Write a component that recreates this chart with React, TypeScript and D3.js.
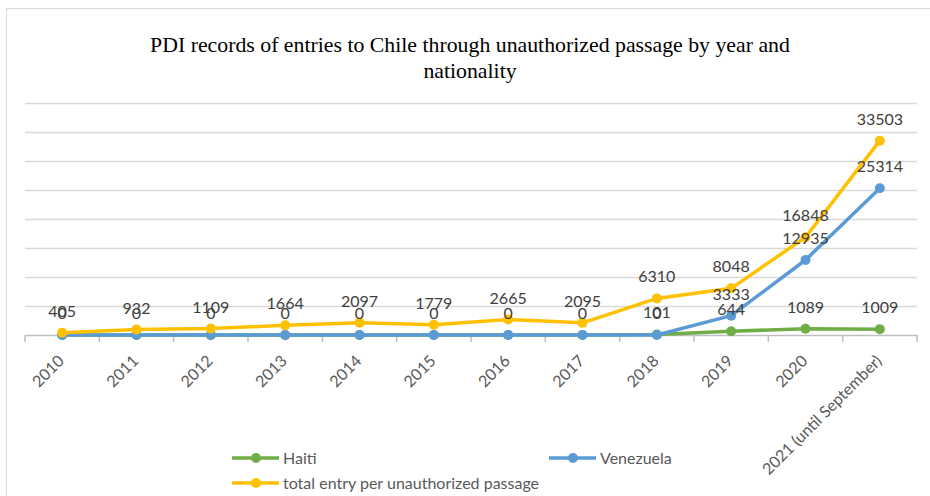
import * as d3 from 'd3';
import { useEffect, useRef } from 'react';

const years = ['2010', '2011', '2012', '2013', '2014', '2015', '2016', '2017', '2018', '2019', '2020', '2021 (until September)'];
const haiti = [0, 0, 0, 0, 0, 0, 0, 0, 101, 644, 1089, 1009];
const venezuela = [0, 0, 0, 0, 0, 0, 0, 0, 0, 3333, 12935, 25314];
const totalEntry = [405, 932, 1109, 1664, 2097, 1779, 2665, 2095, 6310, 8048, 16848, 33503];
const gridTicks = [5000, 10000, 15000, 20000, 25000, 30000, 35000, 40000];

const seriesList = [
    { name: 'Haiti', values: haiti, color: '#70ad47' },
    { name: 'Venezuela', values: venezuela, color: '#5b9bd5' },
    { name: 'total entry per unauthorized passage', values: totalEntry, color: '#ffc000' },
];

export default function App() {
    const chartRef = useRef<SVGSVGElement | null>(null);

    useEffect(() => {
        document.body.style.margin = '0';
        if (!chartRef.current) return;
        const svg = d3.select(chartRef.current);
        svg.selectAll('*').remove();

        const width = 930;
        const height = 496;
        const margin = { left: 25, right: 13, top: 103, axis: 335 };

        svg.attr('width', width).attr('height', height).style('display', 'block');

        // chart border (runs off the right/bottom edge)
        svg.append('rect')
            .attr('x', 6.5)
            .attr('y', 8.5)
            .attr('width', 940)
            .attr('height', 500)
            .attr('fill', '#fff')
            .attr('stroke', '#d9d9d9');

        // title
        const title = svg.append('text')
            .attr('text-anchor', 'middle')
            .style('font-family', '"Liberation Serif", "Times New Roman", serif')
            .style('font-size', '21.8px')
            .attr('fill', '#000');
        title.append('tspan').attr('x', 470).attr('y', 52)
            .text('PDI records of entries to Chile through unauthorized passage by year and');
        title.append('tspan').attr('x', 470).attr('y', 78).text('nationality');

        const x = d3.scaleBand().domain(years).range([margin.left, width - margin.right]).padding(0);
        const y = d3.scaleLinear().domain([0, 40000]).range([margin.axis, margin.top]);
        const cx = (d: string) => x(d)! + x.bandwidth() / 2;

        // gridlines
        svg.append('g')
            .selectAll('line')
            .data(gridTicks)
            .join('line')
            .attr('x1', margin.left)
            .attr('x2', width - margin.right)
            .attr('y1', (d) => Math.round(y(d)) + 0.5)
            .attr('y2', (d) => Math.round(y(d)) + 0.5)
            .attr('stroke', '#d9d9d9')
            .attr('stroke-width', 1.5);

        // x axis
        const xAxis = d3.axisBottom(x).tickSizeInner(0).tickSizeOuter(0).tickFormat(() => '');
        const ax = svg.append('g')
            .attr('transform', `translate(0,${margin.axis})`)
            .call(xAxis);
        ax.select('.domain').attr('stroke', '#bfbfbf').attr('stroke-width', 1.5);
        ax.selectAll('.tick').remove();
        const bounds = [...years.map((d) => x(d)!), width - margin.right];
        ax.selectAll('line.sep')
            .data(bounds)
            .join('line')
            .attr('class', 'sep')
            .attr('x1', (d) => d)
            .attr('x2', (d) => d)
            .attr('y1', 0)
            .attr('y2', 7)
            .attr('stroke', '#bfbfbf')
            .attr('stroke-width', 1.5);

        svg.append('g')
            .selectAll('text')
            .data(years)
            .join('text')
            .attr('transform', (d) => `translate(${cx(d) - 1},358) rotate(-45)`)
            .attr('text-anchor', 'end')
            .attr('dy', '0.35em')
            .style('font-family', 'Lato, sans-serif')
            .style('font-size', '16px')
            .attr('fill', '#595959')
            .text((d) => d);

        // lines + markers
        const line = d3.line<number>()
            .x((_, i) => cx(years[i]))
            .y((d) => y(d));

        seriesList.forEach((s) => {
            const g = svg.append('g');
            g.append('path')
                .datum(s.values)
                .attr('d', line)
                .attr('fill', 'none')
                .attr('stroke', s.color)
                .attr('stroke-width', 3.5)
                .attr('stroke-linejoin', 'round');
            g.selectAll('circle')
                .data(s.values)
                .join('circle')
                .attr('cx', (_, i) => cx(years[i]))
                .attr('cy', (d) => y(d))
                .attr('r', 5)
                .attr('fill', s.color);
        });

        // data labels (identical labels at the same spot are drawn once)
        const seen = new Set<string>();
        const labels: { i: number; v: number }[] = [];
        seriesList.forEach((s) => {
            s.values.forEach((v, i) => {
                const key = `${i}-${v}`;
                if (seen.has(key)) return;
                seen.add(key);
                labels.push({ i, v });
            });
        });
        svg.append('g')
            .selectAll('text')
            .data(labels)
            .join('text')
            .attr('x', (d) => cx(years[d.i]))
            .attr('y', (d) => y(d.v) - 16)
            .attr('text-anchor', 'middle')
            .style('font-family', 'Lato, sans-serif')
            .style('font-size', '16px')
            .attr('fill', '#404040')
            .text((d) => d.v);

        // legend
        const legendItems = [
            { s: seriesList[0], x: 232, y: 458 },
            { s: seriesList[1], x: 549, y: 458 },
            { s: seriesList[2], x: 232, y: 483 },
        ];
        const lg = svg.append('g');
        legendItems.forEach((it) => {
            lg.append('line')
                .attr('x1', it.x)
                .attr('x2', it.x + 47)
                .attr('y1', it.y)
                .attr('y2', it.y)
                .attr('stroke', it.s.color)
                .attr('stroke-width', 3.5);
            lg.append('circle').attr('cx', it.x + 24).attr('cy', it.y).attr('r', 5).attr('fill', it.s.color);
            lg.append('text')
                .attr('x', it.x + 51)
                .attr('y', it.y)
                .attr('dy', '0.35em')
                .style('font-family', 'Lato, sans-serif')
                .style('font-size', '16px')
                .attr('fill', '#595959')
                .text(it.s.name);
        });
    }, []);

    return <svg ref={chartRef} />;
}
